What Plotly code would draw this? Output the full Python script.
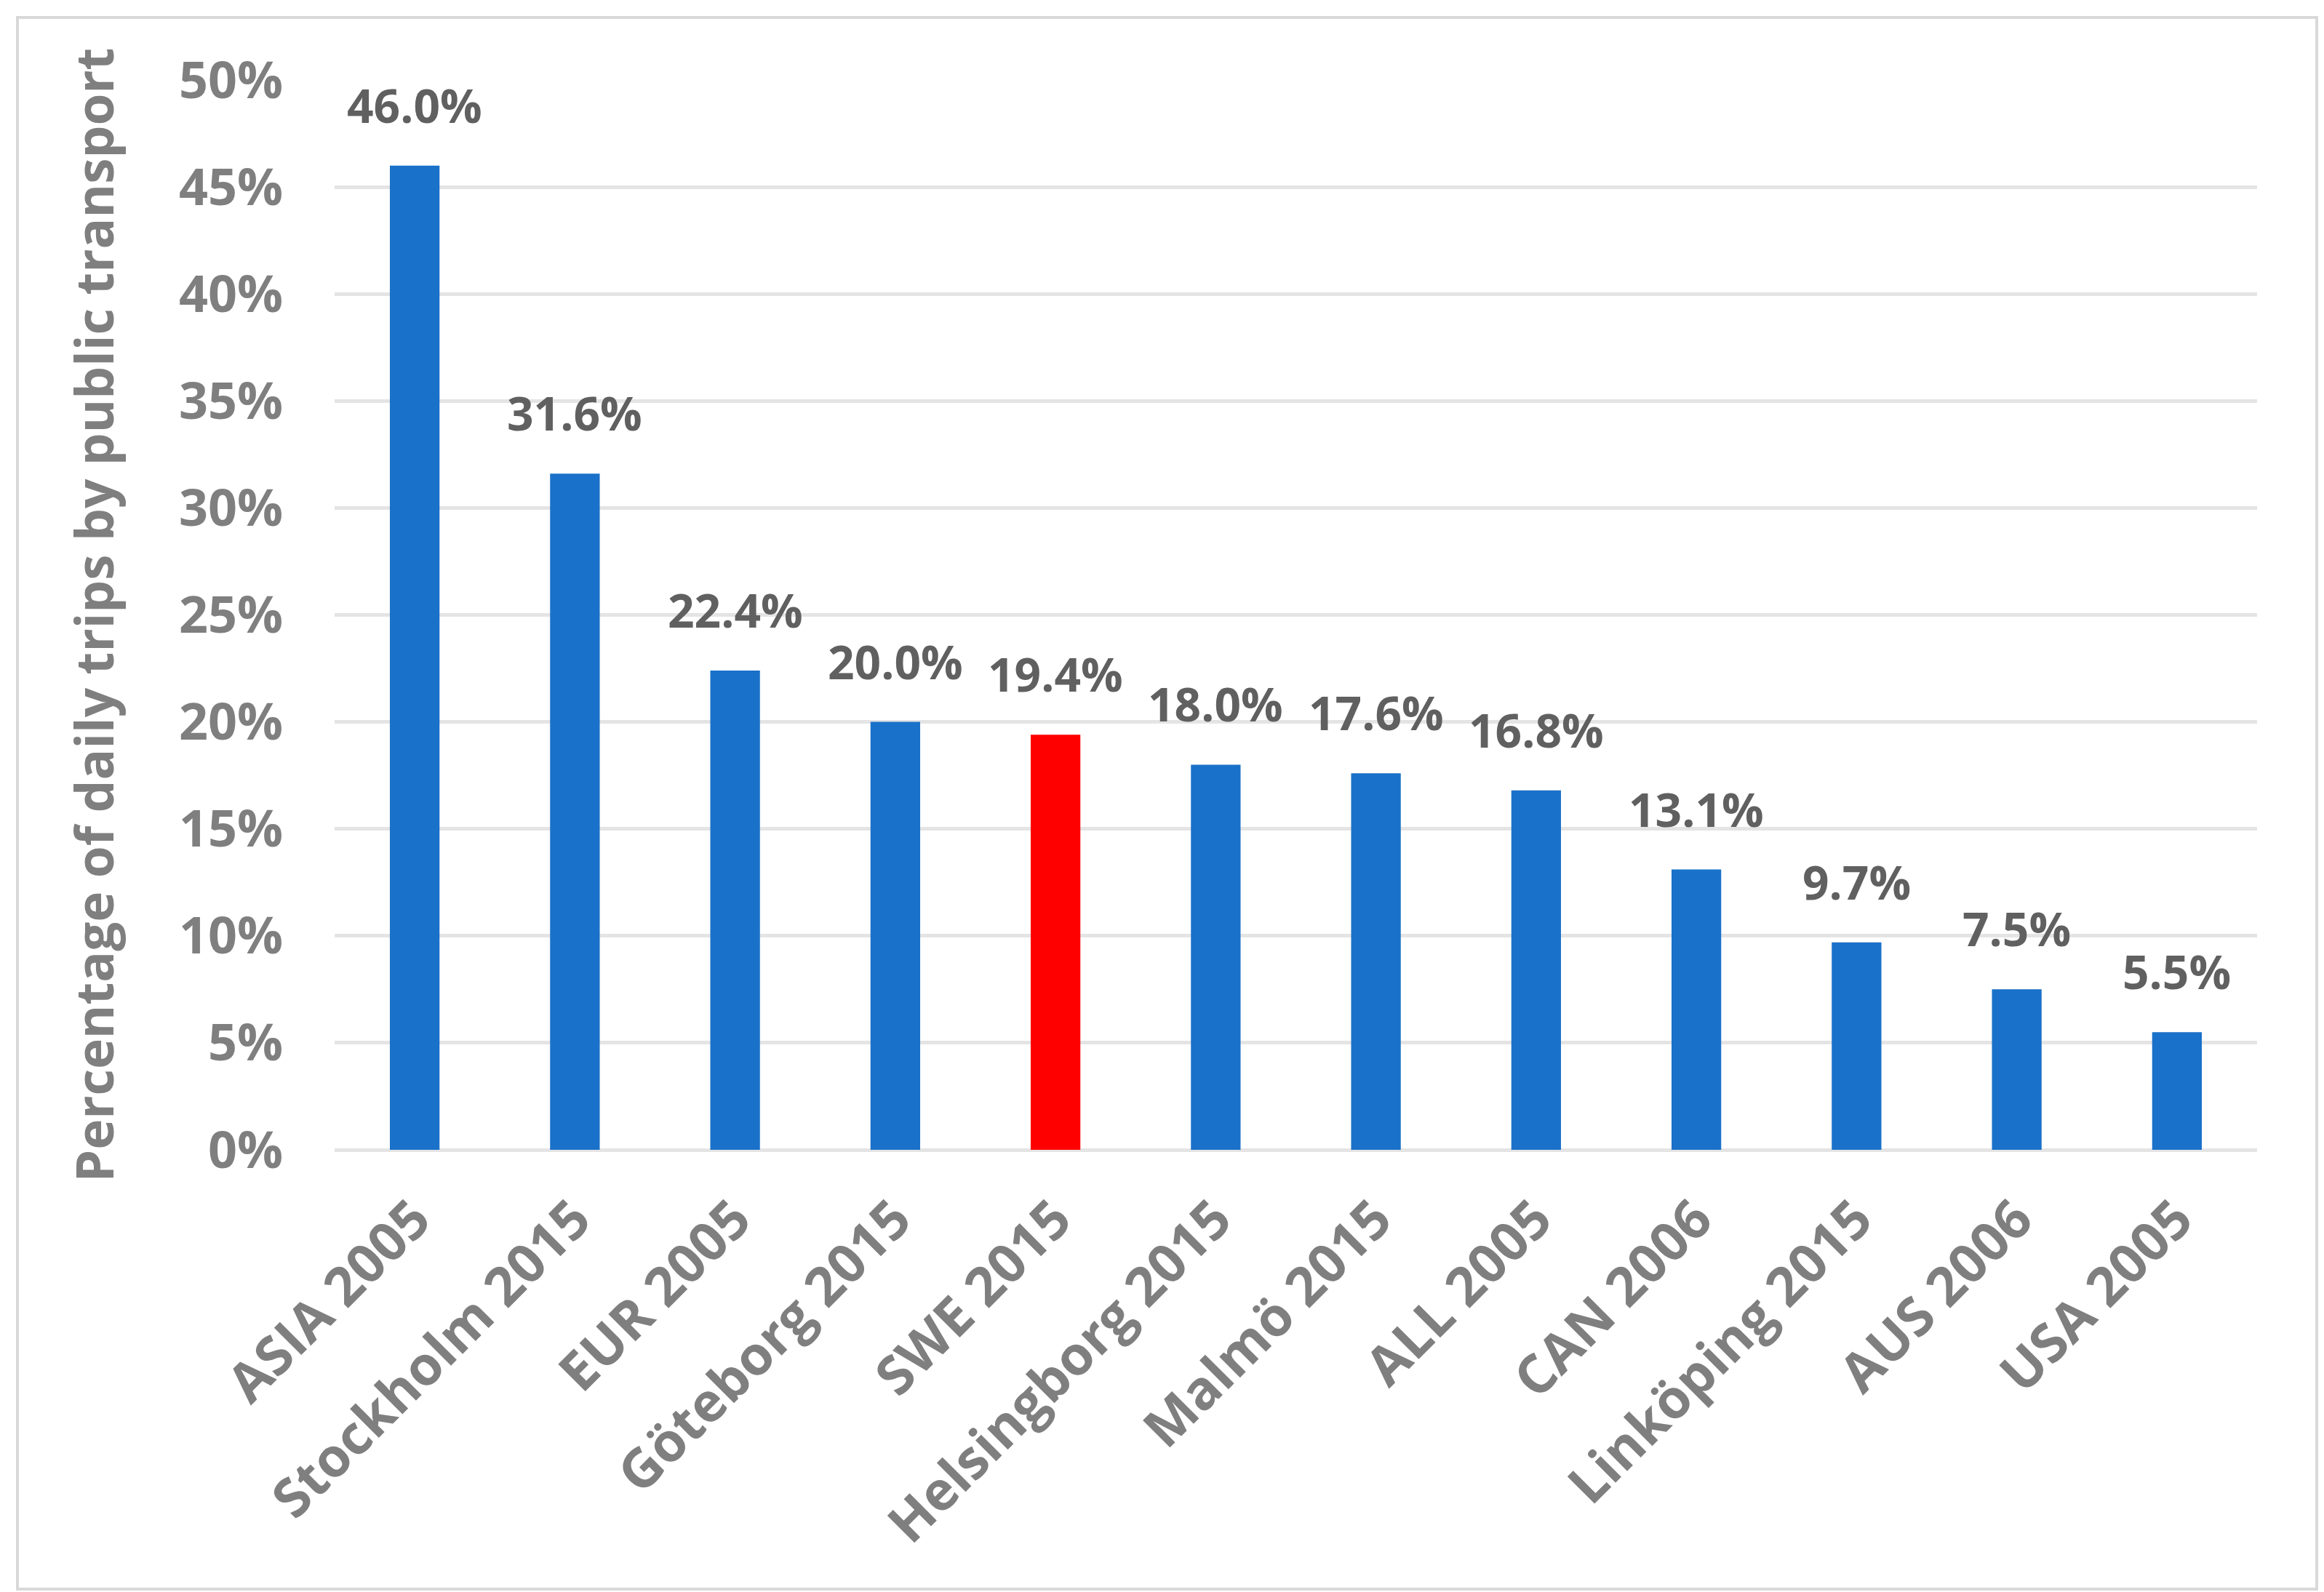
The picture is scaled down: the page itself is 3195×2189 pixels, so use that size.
import plotly.graph_objects as go

categories = ["ASIA 2005", "Stockholm 2015", "EUR 2005", "Göteborg 2015", "SWE 2015",
              "Helsingborg 2015", "Malmö 2015", "ALL 2005", "CAN 2006", "Linköping 2015",
              "AUS 2006", "USA 2005"]
values = [46.0, 31.6, 22.4, 20.0, 19.4, 18.0, 17.6, 16.8, 13.1, 9.7, 7.5, 5.5]
highlight = "SWE 2015"
y_ticks = [0, 5, 10, 15, 20, 25, 30, 35, 40, 45, 50]
y_tick_labels = [f"{v}%" for v in y_ticks]
y_title = "Percentage of daily trips by public transport"

BLUE = "#1a71c9"
RED = "#ff0000"
colors = [RED if c == highlight else BLUE for c in categories]

W, H = 3195, 2189
ML, MR, MT, MB = 452, 100, 102, 616
FONT = "Open Sans"

fig = go.Figure()
fig.add_trace(go.Bar(
    x=categories, y=values, marker=dict(color=colors, line=dict(width=0)),
    hoverinfo="skip",
))

for c, v in zip(categories, values):
    fig.add_annotation(
        x=c, y=v, text=f"<b>{v:.1f}%</b>", showarrow=False,
        yanchor="bottom", yshift=38,
        font=dict(family=FONT, size=64, color="#606060"),
    )

pw = W - ML - MR
ph = H - MT - MB
fig.add_shape(
    type="rect", xref="paper", yref="paper",
    x0=(16 - ML) / pw, x1=(3177 - ML) / pw,
    y0=(H - MB - 2177) / ph, y1=(H - MB - 16) / ph,
    line=dict(color="#d9d9d9", width=4), fillcolor="rgba(0,0,0,0)", layer="below",
)

fig.update_layout(
    width=W, height=H,
    margin=dict(l=ML, r=MR, t=MT, b=MB),
    paper_bgcolor="white", plot_bgcolor="white",
    bargap=0.69, showlegend=False,
    font=dict(family=FONT, color="#7f7f7f"),
)
fig.update_xaxes(
    tickmode="array", tickvals=categories, ticktext=[f"<b>{c}</b>" for c in categories],
    tickangle=-45, tickfont=dict(family=FONT, size=74, color="#7f7f7f"),
    showgrid=False, showline=False, ticks="", ticklabelstandoff=36,
)
fig.update_yaxes(
    range=[0, 50], tickvals=y_ticks, ticktext=[f"<b>{t}</b>" for t in y_tick_labels],
    tickfont=dict(family=FONT, size=70, color="#7f7f7f"),
    showgrid=True, gridcolor="#e4e4e4", gridwidth=5,
    zeroline=True, zerolinecolor="#e4e4e4", zerolinewidth=5,
    showline=False, ticks="", ticklabelstandoff=70,
    title=dict(text=f"<b>{y_title}</b>", font=dict(family=FONT, size=71, color="#7f7f7f"), standoff=66),
)

fig.write_html("out.html")
